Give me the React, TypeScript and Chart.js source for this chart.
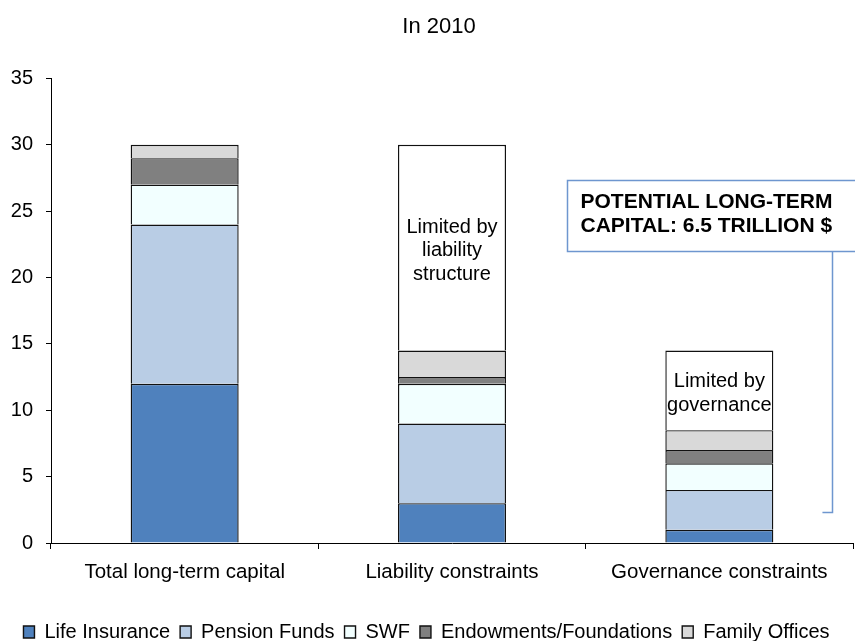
import React, { useEffect, useRef } from "react";
import { Chart, registerables } from "chart.js";

Chart.register(...registerables);

// ---------- data ----------
const CATEGORIES = ["Total long-term capital", "Liability constraints", "Governance constraints"];
const LIFE_INSURANCE = [12, 3, 1];
const PENSION_FUNDS = [12, 6, 3];
const SWF = [3, 3, 2];
const ENDOWMENTS = [2, 0.5, 1];
const FAMILY_OFFICES = [1, 2, 1.5];
const LIMITED = [null, 15.5, 6];
const LIMITED_LABELS = [[], ["Limited by", "liability", "structure"], ["Limited by", "governance"]];
const SERIES_NAMES = ["Life Insurance", "Pension Funds", "SWF", "Endowments/Foundations", "Family Offices", "Limited"];
const Y_MIN = 0;
const Y_MAX = 35;
const Y_STEP = 5;
const TITLE = "In 2010";
const CALLOUT_LINES = ["POTENTIAL LONG-TERM", "CAPITAL: 6.5 TRILLION $"];

// ---------- styles ----------
const COLORS = ["#4F81BD", "#B9CDE5", "#F2FFFF", "#808080", "#D9D9D9", "#FFFFFF"];
const EDGE = "#111111";
const FONT = "'Liberation Sans', Arial, Helvetica, sans-serif";
const CALLOUT_COLOR = "#6E96CF";

const overlayPlugin = {
  id: "overlay",
  afterLayout(chart: any) {
    const lg = chart.legend;
    if (!lg) return;
    const p = lg.options.labels.padding;
    const center = lg.top + p + 10;
    const d = 632 - center;
    lg.top += d;
    lg.bottom += d;
  },
  afterDatasetsDraw(chart: any) {
    const ctx = chart.ctx;
    const meta = chart.getDatasetMeta(5);
    ctx.save();
    ctx.fillStyle = "#000";
    ctx.font = `20px ${FONT}`;
    ctx.textAlign = "center";
    ctx.textBaseline = "middle";
    meta.data.forEach((bar: any, i: number) => {
      const lines = LIMITED_LABELS[i];
      if (!lines || !lines.length || LIMITED[i] == null) return;
      const cy = (bar.y + bar.base) / 2 + 3;
      const lh = 23.5;
      const start = cy - ((lines.length - 1) * lh) / 2;
      lines.forEach((t: string, k: number) => ctx.fillText(t, bar.x, start + k * lh));
    });
    ctx.restore();
  },
  afterDraw(chart: any) {
    const ctx = chart.ctx;
    const a = chart.chartArea;
    const w = a.right - a.left;
    const ys = chart.scales.y;
    ctx.save();
    // title
    ctx.fillStyle = "#000";
    ctx.font = `22px ${FONT}`;
    ctx.textAlign = "center";
    ctx.textBaseline = "alphabetic";
    ctx.fillText(TITLE, a.left + w * 0.4838, 32.7);
    // callout box
    const bx = Math.round(a.left + w * 0.6436) + 0.5;
    const top = Math.round(ys.getPixelForValue(27.36)) + 0.5;
    const bottom = Math.round(ys.getPixelForValue(22.0)) + 0.5;
    const lx = Math.round(a.left + w * 0.9744) + 0.5;
    const tx = a.left + w * 0.9619;
    const ly = Math.round(ys.getPixelForValue(2.36)) + 0.5;
    ctx.strokeStyle = CALLOUT_COLOR;
    ctx.lineWidth = 1.5;
    ctx.strokeRect(bx, top, chart.width + 20 - bx, bottom - top);
    ctx.beginPath();
    ctx.moveTo(lx, bottom);
    ctx.lineTo(lx, ly);
    ctx.lineTo(tx, ly);
    ctx.stroke();
    ctx.font = `bold 21px ${FONT}`;
    ctx.textAlign = "left";
    ctx.fillStyle = "#000";
    ctx.fillText(CALLOUT_LINES[0], bx + 13, top + 27);
    ctx.fillText(CALLOUT_LINES[1], bx + 13, top + 51.5);
    ctx.restore();
  },
};

export default function App() {
  const ref = useRef<HTMLCanvasElement | null>(null);

  useEffect(() => {
    if (!ref.current) return;
    Chart.defaults.font.family = FONT;
    Chart.defaults.color = "#000";
    const seriesValues = [LIFE_INSURANCE, PENSION_FUNDS, SWF, ENDOWMENTS, FAMILY_OFFICES, LIMITED];
    const chart = new Chart(ref.current, {
      type: "bar",
      data: {
        labels: CATEGORIES,
        datasets: seriesValues.map((vals, i) => ({
          label: SERIES_NAMES[i],
          data: vals as any,
          backgroundColor: COLORS[i],
          borderColor: EDGE,
          borderWidth: 1.4,
          barPercentage: 0.404,
          categoryPercentage: 1,
        })),
      },
      options: {
        responsive: false,
        animation: false,
        devicePixelRatio: 1,
        layout: { padding: { left: 0, right: 2, top: 78.5, bottom: 0 } },
        plugins: {
          title: { display: false },
          tooltip: { enabled: false },
          legend: {
            position: "bottom",
            labels: {
              boxWidth: 11,
              boxHeight: 12,
              padding: 10,
              color: "#000",
              font: { size: 20, family: FONT },
              filter: (item: any) => item.datasetIndex !== 5,
            },
          },
        },
        scales: {
          x: {
            stacked: true,
            grid: { drawOnChartArea: false, tickLength: 6, color: "#000", offset: true },
            border: { color: "#000", width: 1 },
            ticks: { font: { size: 20.5 }, color: "#000", padding: 11, maxRotation: 0 },
            afterFit: (s: any) => {
              s.height = 58;
            },
          },
          y: {
            stacked: true,
            min: Y_MIN,
            max: Y_MAX,
            grid: { drawOnChartArea: false, tickLength: 5, color: "#000" },
            border: { color: "#000", width: 1 },
            ticks: { stepSize: Y_STEP, font: { size: 20 }, color: "#000", padding: 13 },
            afterFit: (s: any) => {
              s.width = 51;
            },
          },
        },
      },
      plugins: [overlayPlugin],
    });
    return () => chart.destroy();
  }, []);

  return (
    <div style={{ position: "absolute", left: 0, top: 0, width: 855, height: 641, background: "#fff" }}>
      <canvas ref={ref} width={855} height={641} style={{ width: 855, height: 641, display: "block" }} />
    </div>
  );
}
